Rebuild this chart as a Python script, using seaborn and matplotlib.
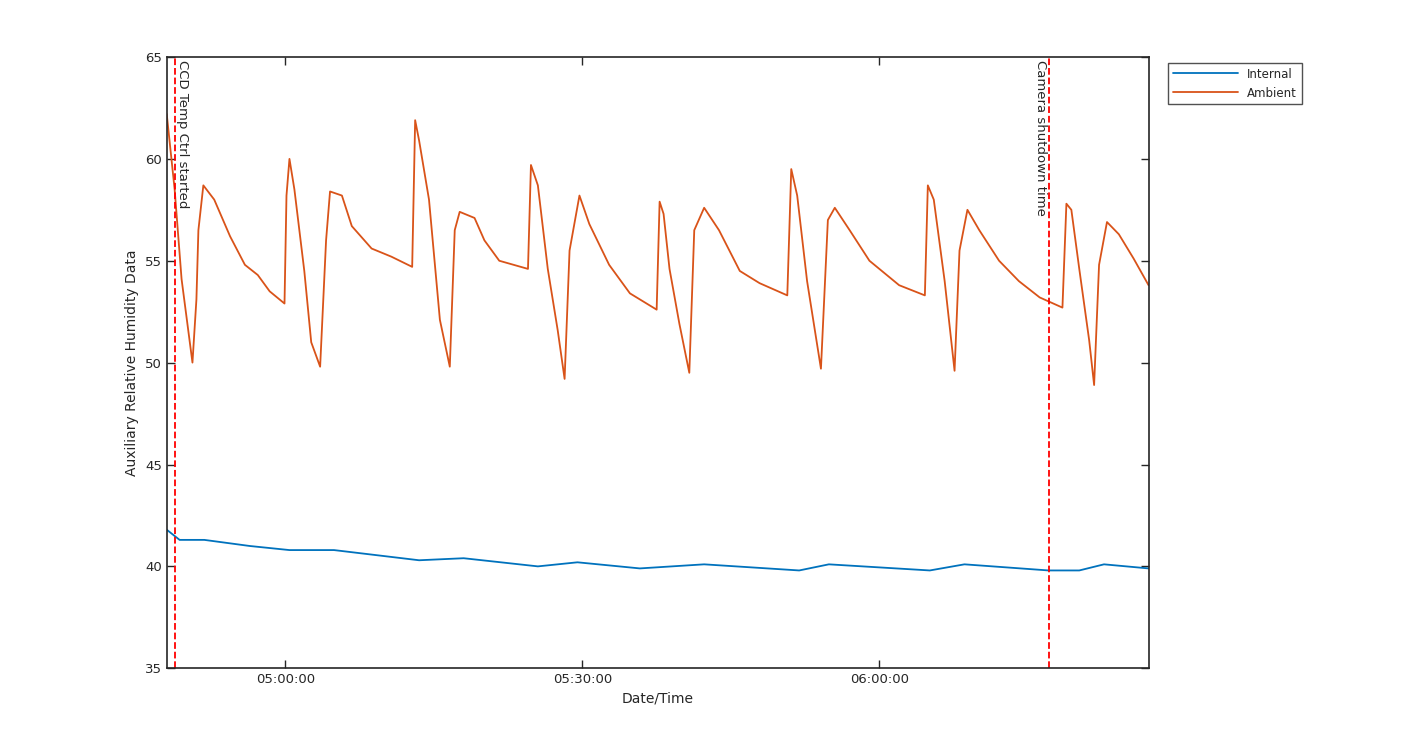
"""Auxiliary relative humidity: internal vs ambient."""

import pandas as pd
import matplotlib
matplotlib.use("Agg")
import matplotlib.pyplot as plt
import matplotlib.dates as mdates
import seaborn as sns

sns.set_style("white")
plt.rcParams.update({'font.family': 'DejaVu Sans', 'font.size': 9})

start = pd.Timestamp('2016-01-01 04:48:00')

# Ambient readings: minutes after 04:48 and %RH
amb_min = [0.0, 0.8, 1.5, 2.6, 3.0, 3.2, 3.7, 4.8, 6.4, 7.9, 9.2, 10.4, 11.9, 12.1,
           12.4, 12.9, 13.9, 14.6, 15.5, 16.1, 16.5, 17.7, 18.7, 20.7, 22.7, 24.8,
           25.1, 25.5, 26.5, 27.6, 28.6, 29.1, 29.6, 31.1, 32.1, 33.6, 36.5, 36.8,
           37.5, 38.5, 39.5, 40.2, 40.7, 41.7, 42.7, 44.7, 46.8, 49.5, 49.8, 50.2,
           50.8, 51.8, 52.8, 53.3, 54.3, 55.8, 57.9, 59.9, 62.7, 63.1, 63.7, 64.7,
           66.1, 66.8, 67.5, 69.0, 71.0, 74.0, 76.6, 76.9, 77.5, 78.6, 79.6, 80.1,
           80.9, 82.1, 84.1, 86.1, 88.2, 90.5, 90.9, 91.4, 92.2, 93.2, 93.7, 94.2,
           95.0, 96.2, 97.7, 99.2]
amb_val = [62.2, 58.5, 54.1, 50.0, 53.1, 56.5, 58.7, 58.0, 56.2, 54.8, 54.3, 53.5,
           52.9, 58.2, 60.0, 58.5, 54.5, 51.0, 49.8, 56.0, 58.4, 58.2, 56.7, 55.6,
           55.2, 54.7, 61.9, 60.9, 58.0, 52.1, 49.8, 56.5, 57.4, 57.1, 56.0, 55.0,
           54.6, 59.7, 58.7, 54.6, 51.6, 49.2, 55.5, 58.2, 56.8, 54.8, 53.4, 52.6,
           57.9, 57.3, 54.6, 51.9, 49.5, 56.5, 57.6, 56.5, 54.5, 53.9, 53.3, 59.5,
           58.2, 54.0, 49.7, 57.0, 57.6, 56.5, 55.0, 53.8, 53.3, 58.7, 58.0, 54.0,
           49.6, 55.5, 57.5, 56.5, 55.0, 54.0, 53.2, 52.7, 57.8, 57.5, 54.6, 51.1,
           48.9, 54.8, 56.9, 56.3, 55.1, 53.8]

# Internal readings
int_min = [0.0, 1.3, 3.8, 8.4, 12.4, 16.9, 25.5, 30.0, 37.5, 41.5, 47.8, 54.3,
           63.9, 66.9, 77.1, 80.6, 89.1, 92.2, 94.7, 99.2]
int_val = [41.8, 41.3, 41.3, 41.0, 40.8, 40.8, 40.3, 40.4, 40.0, 40.2, 39.9, 40.1,
           39.8, 40.1, 39.8, 40.1, 39.8, 39.8, 40.1, 39.9]

events_min = [0.82, 89.1]
events_txt = ['CCD Temp Ctrl started', 'Camera shutdown time']

df = pd.concat([
    pd.DataFrame({'time': start + pd.to_timedelta(int_min, unit='min'),
                  'rh': int_val, 'series': 'Internal'}),
    pd.DataFrame({'time': start + pd.to_timedelta(amb_min, unit='min'),
                  'rh': amb_val, 'series': 'Ambient'}),
])

fig = plt.figure(figsize=(14.25, 7.5), dpi=100)
ax = fig.add_axes([0.117, 0.109, 0.689, 0.815])
sns.lineplot(data=df, x='time', y='rh', hue='series', ax=ax,
             palette={'Internal': '#0072BD', 'Ambient': '#D95319'},
             linewidth=1.3, estimator=None, sort=False)

# CCD label sits right of its line, shutdown label left of its line
for m, txt, side in zip(events_min, events_txt, [1, -1]):
    t = start + pd.Timedelta(minutes=m)
    ax.axvline(t, color='red', ls='--', lw=1.3)
    ax.text(t + pd.Timedelta(seconds=8 * side), 64.85, txt, rotation=-90,
            va='top', ha='left' if side > 0 else 'right', fontsize=9.5)

ax.set_xlim(start, start + pd.Timedelta(minutes=99.2))
ax.set_ylim(35, 65)
ax.set_yticks(range(35, 66, 5))
ax.set_xticks([pd.Timestamp('2016-01-01 05:00:00'),
               pd.Timestamp('2016-01-01 05:30:00'),
               pd.Timestamp('2016-01-01 06:00:00')])
ax.xaxis.set_major_formatter(mdates.DateFormatter('%H:%M:%S'))
ax.tick_params(direction='in', top=True, right=True, left=True, bottom=True,
               length=6, width=1, color='#262626', labelsize=9.5)
for s in ax.spines.values():
    s.set_linewidth(1.2)
    s.set_color('#262626')
ax.set_xlabel('Date/Time', fontsize=10)
ax.set_ylabel('Auxiliary Relative Humidity Data', fontsize=10)
ax.legend(loc='upper left', bbox_to_anchor=(1.014, 1.0), frameon=True,
          fancybox=False, edgecolor='#262626', fontsize=8.5, handlelength=5.5)

plt.savefig('out.png', dpi=100)
